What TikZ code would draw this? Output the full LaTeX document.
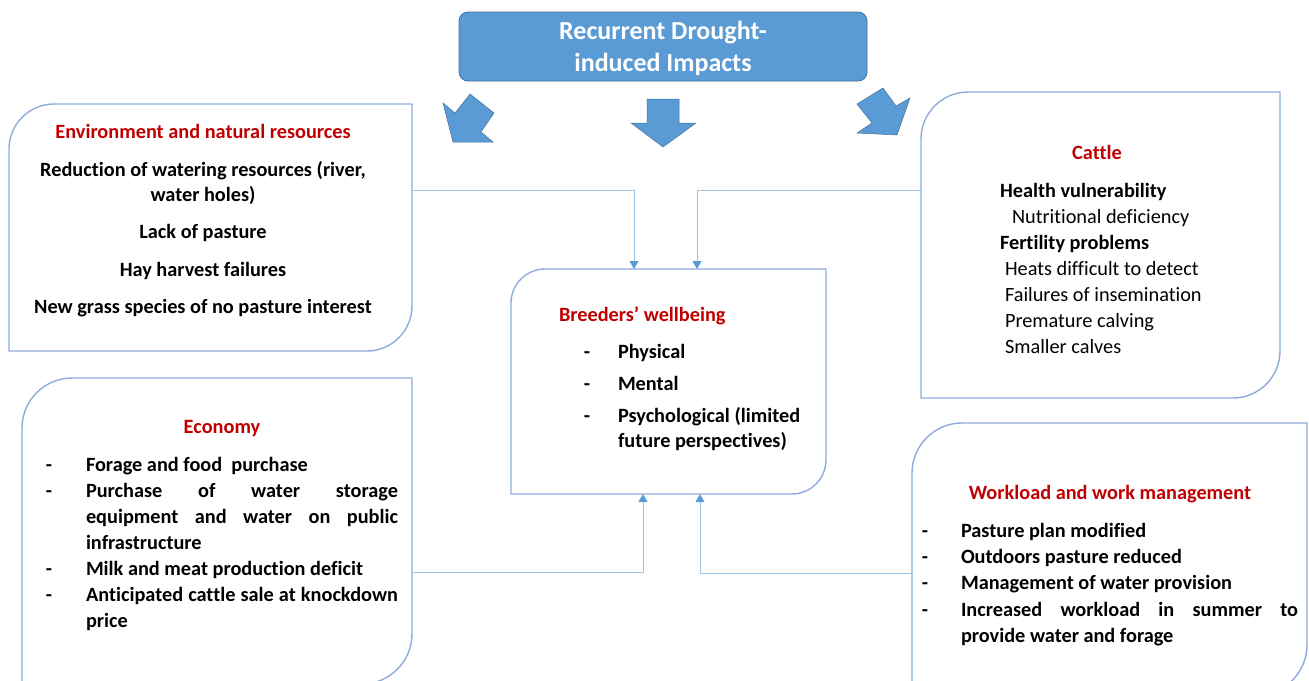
\documentclass[tikz,border=0pt]{standalone}
\usepackage{fontspec}
\setmainfont{Carlito}[Ligatures=CommonOff]
\usetikzlibrary{arrows.meta}
\definecolor{boxblue}{HTML}{8FAADC}
\definecolor{fillblue}{HTML}{5B9BD5}
\definecolor{edgeblue}{HTML}{41719C}
\definecolor{connblue}{HTML}{9DC3E6}
\definecolor{tipblue}{HTML}{5B9BD5}
\definecolor{hdred}{HTML}{C00000}
\newcommand\rdbox[6]{%
  \draw[boxline] (#2,#5) -- (#2,#3+#6) .. controls (#2,#3+0.45*#6) and (#2+0.45*#6,#3) .. (#2+#6,#3)
    -- (#4,#3) -- (#4,#5-#6) .. controls (#4,#5-0.45*#6) and (#4-0.45*#6,#5) .. (#4-#6,#5) -- cycle;
  \node[inner sep=0,outer sep=0,minimum width={(#4-#2)*1pt},minimum height={(#5-#3)*1pt}] (#1) at ({(#2+#4)/2},{(#3+#5)/2}) {};%
}
\begin{document}
\begin{tikzpicture}[x=1pt,y=-1pt,
  boxline/.style={draw=boxblue,line width=1.4pt},
  topbox/.style={draw=edgeblue,fill=fillblue,line width=0.8pt,rounded corners=9pt,inner sep=0,outer sep=0},
  blockarrow/.style={draw=edgeblue,fill=fillblue,line width=0.5pt,line join=miter},
  conn/.style={draw=connblue,line width=1pt,-{Triangle[width=9pt,length=8pt,color=tipblue]}},
  txt/.style={inner sep=0,outer sep=0,font=\bfseries\fontsize{20.3}{24}\selectfont},
  rtxt/.style={inner sep=0,outer sep=0,font=\fontsize{20.3}{24}\selectfont},
  hd/.style={txt,text=hdred},
  toptxt/.style={inner sep=0,outer sep=0,text=white,font=\bfseries\fontsize{26}{30}\selectfont}]
\useasboundingbox (0,0) rectangle (1309,680);
\clip (0,0) rectangle (1309,680);

% top box
\node[topbox,minimum width=408pt,minimum height=69pt] (top) at (663,46.5) {};
\node[toptxt,anchor=base] (topa) at (663,39) {Recurrent Drought-};
\node[toptxt,anchor=base] (topb) at (663,71) {induced Impacts};

% block arrows
\draw[blockarrow] (647,99) -- (679,99) -- (679,123) -- (696,123) -- (663,147) -- (631,123) -- (647,123) -- cycle;
\draw[blockarrow] (443,103) -- (455,113) -- (470,94) -- (494,113) -- (481,132) -- (493,142) -- (453,142) -- cycle;
\draw[blockarrow] (857,104) -- (883,88) -- (896,106) -- (910,98) -- (897,135) -- (857,133) -- (872,123) -- cycle;

% boxes
\rdbox{env}{9}{104}{412}{351}{45}
\rdbox{cat}{921}{92}{1280}{398}{47}
\rdbox{bw}{511}{269}{826}{494}{34}
\rdbox{eco}{22}{378}{412}{684}{50}
\rdbox{wrk}{912}{423}{1307}{695}{50}

% environment
\node[hd,anchor=base] (envt) at (203,138) {Environment and natural resources};
\node[txt,anchor=base] (env1a) at (203,176) {Reduction of watering resources (river,};
\node[txt,anchor=base] (env1b) at (203,201) {water holes)};
\node[txt,anchor=base] (env2) at (203,238) {Lack of pasture};
\node[txt,anchor=base] (env3) at (203,276) {Hay harvest failures};
\node[txt,anchor=base] (env4) at (203,313) {New grass species of no pasture interest};

% cattle
\node[hd,anchor=base] (catt) at (1097,159) {Cattle};
\node[txt,anchor=base west] (cat1) at (1000,197) {Health vulnerability};
\node[rtxt,anchor=base west] (cat2) at (1012,223) {Nutritional deficiency};
\node[txt,anchor=base west] (cat3) at (1000,249) {Fertility problems};
\node[rtxt,anchor=base west] (cat4) at (1005,275) {Heats difficult to detect};
\node[rtxt,anchor=base west] (cat5) at (1005,301) {Failures of insemination};
\node[rtxt,anchor=base west] (cat6) at (1005,327) {Premature calving};
\node[rtxt,anchor=base west] (cat7) at (1005,353) {Smaller calves};

% breeders
\node[hd,anchor=base west] (bwt) at (559,321) {Breeders’ wellbeing};
\node[txt,anchor=base] (bwd1) at (587,358) {-};
\node[txt,anchor=base west] (bw1) at (618,358) {Physical};
\node[txt,anchor=base] (bwd2) at (587,390) {-};
\node[txt,anchor=base west] (bw2) at (618,390) {Mental};
\node[txt,anchor=base] (bwd3) at (587,422) {-};
\node[txt,anchor=base west] (bw3a) at (618,422) {Psychological (limited};
\node[txt,anchor=base west] (bw3b) at (618,447) {future perspectives)};

% economy
\node[hd,anchor=base] (ecot) at (222,433) {Economy};
\node[txt,anchor=base] (ecod1) at (49,471) {-};
\node[txt,anchor=base west] (eco1) at (86,471) {Forage and food\ \ purchase};
\node[txt,anchor=base] (ecod2) at (49,497) {-};
\node[txt,anchor=base west] (eco2a) at (86,497) {\hbox to 312pt{Purchase\hfill of\hfill water\hfill storage}};
\node[txt,anchor=base west] (eco2b) at (86,523) {\hbox to 312pt{equipment\hfill and\hfill water\hfill on\hfill public}};
\node[txt,anchor=base west] (eco2c) at (86,549) {infrastructure};
\node[txt,anchor=base] (ecod3) at (49,575) {-};
\node[txt,anchor=base west] (eco3) at (86,575) {Milk and meat production deficit};
\node[txt,anchor=base] (ecod4) at (49,601) {-};
\node[txt,anchor=base west] (eco4a) at (86,601) {\hbox to 312pt{Anticipated\hfill cattle\hfill sale\hfill at\hfill knockdown}};
\node[txt,anchor=base west] (eco4b) at (86,627) {price};

% workload
\node[hd,anchor=base] (wrkt) at (1110,499) {Workload and work management};
\node[txt,anchor=base] (wrkd1) at (925,537) {-};
\node[txt,anchor=base west] (wrk1) at (961,537) {Pasture plan modified};
\node[txt,anchor=base] (wrkd2) at (925,563) {-};
\node[txt,anchor=base west] (wrk2) at (961,563) {Outdoors pasture reduced};
\node[txt,anchor=base] (wrkd3) at (925,589) {-};
\node[txt,anchor=base west] (wrk3) at (961,589) {Management of water provision};
\node[txt,anchor=base] (wrkd4) at (925,616) {-};
\node[txt,anchor=base west] (wrk4a) at (961,616) {\hbox to 337pt{Increased\hfill workload\hfill in\hfill summer\hfill to}};
\node[txt,anchor=base west] (wrk4b) at (961,642) {provide water and forage};

% connectors
\draw[conn] (env.east |- 0,190) -| (634,0 |- bw.north);
\draw[conn] (cat.west |- 0,190) -| (697,0 |- bw.north);
\draw[conn] (eco.east |- 0,572) -| (643,0 |- bw.south);
\draw[conn] (wrk.west |- 0,573) -| (700,0 |- bw.south);
\end{tikzpicture}
\end{document}
